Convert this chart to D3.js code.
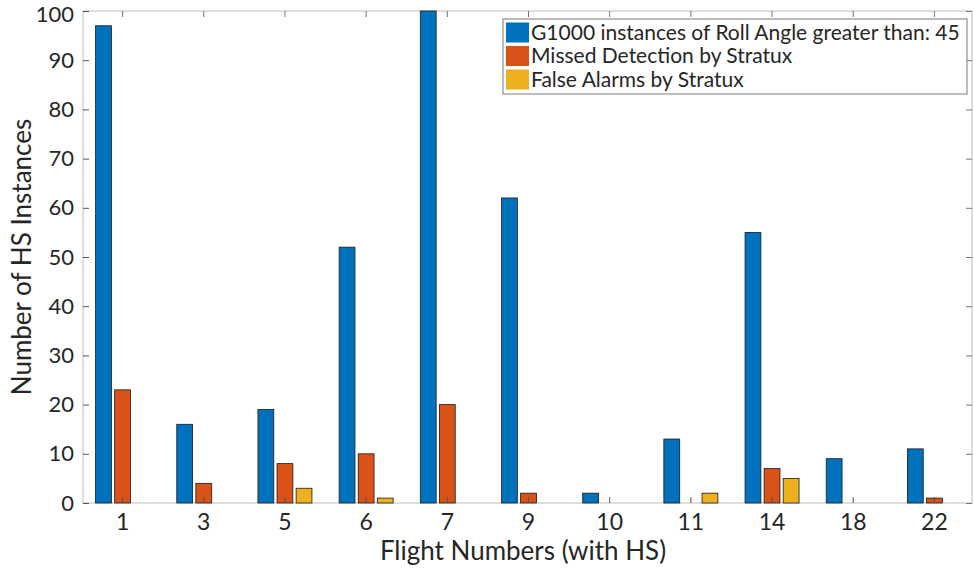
<!DOCTYPE html>
<html>
<head>
<meta charset="utf-8">
<script src="https://cdn.jsdelivr.net/npm/d3@7"></script>
<style>
  html, body { margin: 0; padding: 0; background: #fff; }
  svg { display: block; }
  text { font-family: Lato, "Open Sans", sans-serif; fill: #262626; }
</style>
</head>
<body>
<svg id="chart" width="974" height="571"></svg>
<script>
// Flight numbers that contained high-slope (HS) events
const flights = ["1", "3", "5", "6", "7", "9", "10", "11", "14", "18", "22"];
// G1000 instances of roll angle > 45 deg
const g1000Values = [97, 16, 19, 52, 100, 62, 2, 13, 55, 9, 11];
// Missed detections by Stratux
const missedValues = [23, 4, 8, 10, 20, 2, 0, 0, 7, 0, 1];
// False alarms by Stratux
const falseAlarmValues = [0, 0, 3, 1, 0, 0, 0, 2, 5, 0, 0];

const seriesNames = [
  "G1000 instances of Roll Angle greater than: 45",
  "Missed Detection by Stratux",
  "False Alarms by Stratux"
];
const seriesColors = ["#0072BD", "#D95319", "#EDB120"];
const yTicks = [0, 10, 20, 30, 40, 50, 60, 70, 80, 90, 100];

const series = [g1000Values, missedValues, falseAlarmValues];

const svg = d3.select("#chart");
const plot = { left: 83, right: 972, top: 11, bottom: 503 };

const x = d3.scaleBand()
  .domain(flights)
  .range([82, 975])
  .paddingInner(0)
  .paddingOuter(0);

const y = d3.scaleLinear()
  .domain([0, 100])
  .range([plot.bottom, plot.top]);

// offset of each series inside a group
const sub = d3.scaleBand()
  .domain(d3.range(series.length))
  .range([-27, 27])
  .paddingInner(0.17);

// Axes frame
const axisColor = "#c8c8c8";
svg.append("rect")
  .attr("x", plot.left).attr("y", plot.top)
  .attr("width", plot.right - plot.left)
  .attr("height", plot.bottom - plot.top)
  .attr("fill", "none").attr("stroke", axisColor).attr("stroke-width", 1.2);

// Bars
series.forEach((vals, si) => {
  svg.append("g").selectAll("rect")
    .data(vals.map((v, i) => ({ v, f: flights[i] })))
    .join("rect")
    .filter(d => d.v > 0)
    .attr("x", d => x(d.f) + x.bandwidth() / 2 + sub(si))
    .attr("width", sub.bandwidth())
    .attr("y", d => y(d.v))
    .attr("height", d => y(0) - y(d.v))
    .attr("fill", seriesColors[si])
    .attr("stroke", "#1a1a1a")
    .attr("stroke-width", 0.8);
});

// Y axis (left) with tick marks inside
const yAxis = d3.axisLeft(y).tickValues(yTicks).tickSize(-6).tickPadding(9);
const gy = svg.append("g").attr("transform", `translate(${plot.left},0)`).call(yAxis);
gy.select(".domain").remove();
gy.selectAll(".tick line").attr("stroke", "#555").attr("stroke-width", 1);
gy.selectAll(".tick text").style("font-size", "22px").attr("fill", "#262626");
gy.selectAll(".tick").filter(d => d === 100).select("text").attr("dy", "0.46em");

// Right side tick marks
const yAxisR = d3.axisRight(y).tickValues(yTicks).tickSize(-6).tickFormat("");
const gyr = svg.append("g").attr("transform", `translate(${plot.right},0)`).call(yAxisR);
gyr.select(".domain").remove();
gyr.selectAll(".tick line").attr("stroke", "#777");

// X axis (bottom)
const xAxis = d3.axisBottom(x).tickSize(-6).tickPadding(11);
const gx = svg.append("g").attr("transform", `translate(0,${plot.bottom})`).call(xAxis);
gx.select(".domain").remove();
gx.selectAll(".tick line").attr("stroke", "#555");
gx.selectAll(".tick text").style("font-size", "23px").attr("fill", "#262626");

// Top tick marks
const xAxisT = d3.axisTop(x).tickSize(-6).tickFormat("");
const gxt = svg.append("g").attr("transform", `translate(0,${plot.top})`).call(xAxisT);
gxt.select(".domain").remove();
gxt.selectAll(".tick line").attr("stroke", "#777");

// Axis titles
svg.append("text")
  .attr("x", 523).attr("y", 560)
  .attr("text-anchor", "middle")
  .style("font-size", "26px")
  .text("Flight Numbers (with HS)");

svg.append("text")
  .attr("transform", "translate(31,257) rotate(-90)")
  .attr("text-anchor", "middle")
  .style("font-size", "26px")
  .text("Number of HS Instances");

// Legend
const legend = svg.append("g");
legend.append("rect")
  .attr("x", 503).attr("y", 19).attr("width", 464).attr("height", 75)
  .attr("fill", "#fff").attr("stroke", "#7a7a7a").attr("stroke-width", 1);
seriesNames.forEach((name, i) => {
  const cy = 32.5 + i * 23.5;
  legend.append("rect")
    .attr("x", 506).attr("y", cy - 10).attr("width", 23).attr("height", 20)
    .attr("fill", seriesColors[i]);
  legend.append("text")
    .attr("x", 531).attr("y", cy + 7)
    .style("font-size", "21px")
    .text(name);
});
</script>
</body>
</html>
